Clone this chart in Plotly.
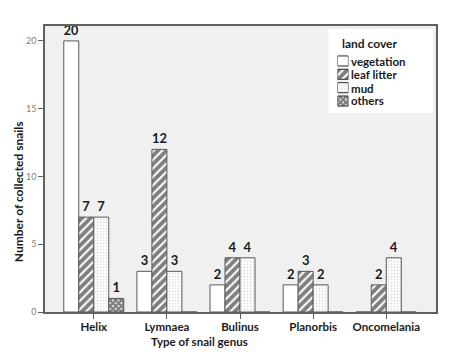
import plotly.graph_objects as go

genera = ["Helix", "Lymnaea", "Bulinus", "Planorbis", "Oncomelania"]
vegetation = [20, 3, 2, 2, 0]
leaf_litter = [7, 12, 4, 3, 2]
mud = [7, 3, 4, 2, 4]
others = [1, 0, 0, 0, 0]
cover_names = ["vegetation", "leaf litter", "mud", "others"]
y_ticks = [0, 5, 10, 15, 20]

FONT = "Lato"
TXT = "#1b1b1b"
EDGE = "#5a5a5a"

patterns = [
    dict(shape="", bgcolor="white", fgcolor="white", solidity=0.3, size=5),
    dict(shape="/", bgcolor="white", fgcolor="black", solidity=0.65, size=6),
    dict(shape=".", bgcolor="white", fgcolor="#bdbdbd", solidity=0.3, size=3),
    dict(shape="x", bgcolor="white", fgcolor="black", solidity=0.8, size=4),
]
series_vals = [vegetation, leaf_litter, mud, others]

# window pixel -> paper coords (page body has 8px margin)
L, R, T, B = 45, 438, 26, 312
def px(X):
    return (X - L) / (R - L)
def py(Y):
    return (B - Y) / (B - T)

fig = go.Figure()
for name, vals, pat in zip(cover_names, series_vals, patterns):
    fig.add_trace(go.Bar(
        name=name, x=genera, y=vals,
        text=[str(v) if v else "" for v in vals],
        textposition="outside", cliponaxis=False,
        textfont=dict(family=FONT, size=13, color=TXT, weight="bold"),
        marker=dict(color="white", pattern=pat, line=dict(color=EDGE, width=1)),
        hoverinfo="skip",
    ))

# custom compact legend: swatches drawn as tiny bars on an inset axis
fig.add_trace(go.Bar(
    x=[1] * len(cover_names), y=list(range(len(cover_names))), orientation="h",
    width=0.75, xaxis="x2", yaxis="y2", showlegend=False, hoverinfo="skip",
    marker=dict(
        color="white",
        line=dict(color="#333", width=1),
        pattern=dict(
            shape=[p["shape"] for p in patterns],
            fgcolor=[p["fgcolor"] for p in patterns],
            bgcolor=[p["bgcolor"] for p in patterns],
            solidity=[p["solidity"] for p in patterns],
            size=[p["size"] for p in patterns],
        ),
    ),
))

row_y = [61, 74.5, 88, 101]
annotations = [
    dict(text="<b>Type of snail genus</b>", x=px(200), y=py(341.5), xref="paper", yref="paper",
         showarrow=False, xanchor="center", yanchor="middle", borderpad=0,
         font=dict(family=FONT, size=11.5, color=TXT)),
    dict(text="<b>Number of collected snails</b>", textangle=-90, x=px(18), y=py(192),
         xref="paper", yref="paper", showarrow=False, xanchor="center", yanchor="middle",
         font=dict(family=FONT, size=12, color=TXT)),
    dict(text="<b>land cover</b>", x=px(343), y=py(44), xref="paper", yref="paper",
         showarrow=False, xanchor="left", yanchor="middle", borderpad=0,
         font=dict(family=FONT, size=12, color=TXT)),
]
for name, yy in zip(cover_names, row_y):
    annotations.append(dict(text="<b>" + name + "</b>", x=px(352), y=py(yy), xref="paper", yref="paper",
                            showarrow=False, xanchor="left", yanchor="middle", borderpad=0,
                            font=dict(family=FONT, size=11.5, color=TXT)))

fig.update_layout(
    width=441, height=341,
    margin=dict(l=L - 8, r=441 - (R - 8), t=T - 8, b=341 - (B - 8)),
    paper_bgcolor="white", plot_bgcolor="#f0f0f0",
    barmode="group", bargap=0.18, bargroupgap=0,
    showlegend=False,
    xaxis=dict(
        range=[-0.667, 4.68], showline=True, linecolor="#606060", linewidth=1.5, mirror=True,
        ticks="outside", ticklen=5, tickcolor="#606060", showgrid=False, ticklabelstandoff=-2,
        tickfont=dict(family=FONT, size=11.5, color=TXT, weight="bold"),
    ),
    yaxis=dict(
        range=[0, 21.1], tickvals=y_ticks, showline=True, linecolor="#606060", linewidth=1.5, mirror=True,
        ticks="outside", ticklen=5, tickcolor="#606060", showgrid=False, zeroline=False,
        tickfont=dict(family=FONT, size=9, color="#808080"),
    ),
    xaxis2=dict(domain=[px(339), px(350)], range=[0, 1], visible=False, anchor="y2", fixedrange=True),
    yaxis2=dict(domain=[py(107.7), py(54.3)], range=[3.5, -0.5], visible=False, anchor="x2", fixedrange=True),
    shapes=[dict(type="rect", xref="paper", yref="paper", x0=px(330), x1=px(435), y0=py(113), y1=py(29),
                 fillcolor="white", line=dict(width=0), layer="below")],
    annotations=annotations,
)

fig.write_html("out.html")
